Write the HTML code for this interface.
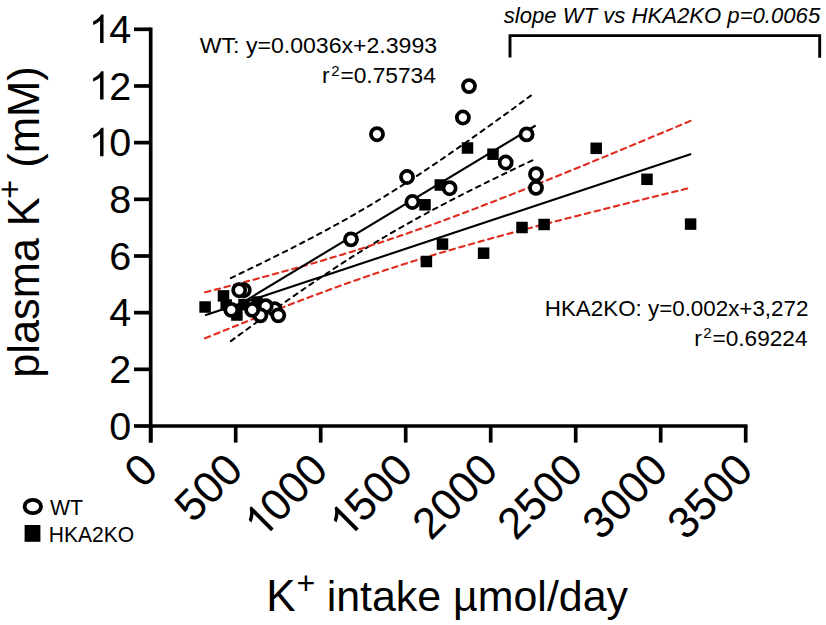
<!DOCTYPE html><html><head><meta charset="utf-8"><style>html,body{margin:0;padding:0;background:#fff;width:826px;height:625px;overflow:hidden}svg{display:block}text{font-family:"Liberation Sans", sans-serif}</style></head><body>
<svg width="826" height="625" viewBox="0 0 826 625">
<rect width="826" height="625" fill="#fff"/>
<line x1="150.70" y1="27.45" x2="150.70" y2="442.60" stroke="#000" stroke-width="3.70"/>
<line x1="150.70" y1="426.00" x2="747.55" y2="426.00" stroke="#000" stroke-width="3.70"/>
<line x1="134" y1="426.00" x2="150.70" y2="426.00" stroke="#000" stroke-width="3.70"/>
<line x1="134" y1="369.33" x2="150.70" y2="369.33" stroke="#000" stroke-width="3.70"/>
<line x1="134" y1="312.66" x2="150.70" y2="312.66" stroke="#000" stroke-width="3.70"/>
<line x1="134" y1="255.99" x2="150.70" y2="255.99" stroke="#000" stroke-width="3.70"/>
<line x1="134" y1="199.31" x2="150.70" y2="199.31" stroke="#000" stroke-width="3.70"/>
<line x1="134" y1="142.64" x2="150.70" y2="142.64" stroke="#000" stroke-width="3.70"/>
<line x1="134" y1="85.97" x2="150.70" y2="85.97" stroke="#000" stroke-width="3.70"/>
<line x1="134" y1="29.30" x2="150.70" y2="29.30" stroke="#000" stroke-width="3.70"/>
<line x1="150.70" y1="426.00" x2="150.70" y2="442.6" stroke="#000" stroke-width="3.70"/>
<line x1="235.70" y1="426.00" x2="235.70" y2="442.6" stroke="#000" stroke-width="3.70"/>
<line x1="320.70" y1="426.00" x2="320.70" y2="442.6" stroke="#000" stroke-width="3.70"/>
<line x1="405.70" y1="426.00" x2="405.70" y2="442.6" stroke="#000" stroke-width="3.70"/>
<line x1="490.70" y1="426.00" x2="490.70" y2="442.6" stroke="#000" stroke-width="3.70"/>
<line x1="575.70" y1="426.00" x2="575.70" y2="442.6" stroke="#000" stroke-width="3.70"/>
<line x1="660.70" y1="426.00" x2="660.70" y2="442.6" stroke="#000" stroke-width="3.70"/>
<line x1="745.70" y1="426.00" x2="745.70" y2="442.6" stroke="#000" stroke-width="3.70"/>
<g transform="translate(131.1,439.60)"><text x="-21.97" font-size="39.50">0</text></g>
<g transform="translate(131.1,382.93)"><text x="-21.97" font-size="39.50">2</text></g>
<g transform="translate(131.1,326.26)"><text x="-21.97" font-size="39.50">4</text></g>
<g transform="translate(131.1,269.59)"><text x="-21.97" font-size="39.50">6</text></g>
<g transform="translate(131.1,212.91)"><text x="-21.97" font-size="39.50">8</text></g>
<g transform="translate(131.1,156.24)"><path transform="translate(-42.28,0) scale(0.01929,-0.01929)" d="M763,0 L583,0 L583,1147 Q518,1085 412.5,1023 Q307,961 223,930 L223,1104 Q374,1175 487,1276 Q600,1377 647,1472 L763,1472 Z"/><text x="-21.97" font-size="39.50">0</text></g>
<g transform="translate(131.1,99.57)"><path transform="translate(-42.28,0) scale(0.01929,-0.01929)" d="M763,0 L583,0 L583,1147 Q518,1085 412.5,1023 Q307,961 223,930 L223,1104 Q374,1175 487,1276 Q600,1377 647,1472 L763,1472 Z"/><text x="-21.97" font-size="39.50">2</text></g>
<g transform="translate(131.1,42.90)"><path transform="translate(-42.28,0) scale(0.01929,-0.01929)" d="M763,0 L583,0 L583,1147 Q518,1085 412.5,1023 Q307,961 223,930 L223,1104 Q374,1175 487,1276 Q600,1377 647,1472 L763,1472 Z"/><text x="-21.97" font-size="39.50">4</text></g>
<g transform="translate(160.00,472.20) rotate(-45)"><text x="-24.47" font-size="44.00">0</text></g>
<g transform="translate(245.00,472.20) rotate(-45)"><text x="-73.41" font-size="44.00">5</text><text x="-48.94" font-size="44.00">0</text><text x="-24.47" font-size="44.00">0</text></g>
<g transform="translate(330.00,472.20) rotate(-45)"><path transform="translate(-96.03,0) scale(0.02148,-0.02148)" d="M763,0 L583,0 L583,1147 Q518,1085 412.5,1023 Q307,961 223,930 L223,1104 Q374,1175 487,1276 Q600,1377 647,1472 L763,1472 Z"/><text x="-73.41" font-size="44.00">0</text><text x="-48.94" font-size="44.00">0</text><text x="-24.47" font-size="44.00">0</text></g>
<g transform="translate(415.00,472.20) rotate(-45)"><path transform="translate(-96.03,0) scale(0.02148,-0.02148)" d="M763,0 L583,0 L583,1147 Q518,1085 412.5,1023 Q307,961 223,930 L223,1104 Q374,1175 487,1276 Q600,1377 647,1472 L763,1472 Z"/><text x="-73.41" font-size="44.00">5</text><text x="-48.94" font-size="44.00">0</text><text x="-24.47" font-size="44.00">0</text></g>
<g transform="translate(500.00,472.20) rotate(-45)"><text x="-97.88" font-size="44.00">2</text><text x="-73.41" font-size="44.00">0</text><text x="-48.94" font-size="44.00">0</text><text x="-24.47" font-size="44.00">0</text></g>
<g transform="translate(585.00,472.20) rotate(-45)"><text x="-97.88" font-size="44.00">2</text><text x="-73.41" font-size="44.00">5</text><text x="-48.94" font-size="44.00">0</text><text x="-24.47" font-size="44.00">0</text></g>
<g transform="translate(670.00,472.20) rotate(-45)"><text x="-97.88" font-size="44.00">3</text><text x="-73.41" font-size="44.00">0</text><text x="-48.94" font-size="44.00">0</text><text x="-24.47" font-size="44.00">0</text></g>
<g transform="translate(755.00,472.20) rotate(-45)"><text x="-97.88" font-size="44.00">3</text><text x="-73.41" font-size="44.00">5</text><text x="-48.94" font-size="44.00">0</text><text x="-24.47" font-size="44.00">0</text></g>
<text transform="translate(38.5,377.8) rotate(-90)" font-size="44" textLength="180.5" lengthAdjust="spacingAndGlyphs">plasma K</text>
<text transform="translate(21.1,198.7) rotate(-90)" font-size="32.4">+</text>
<text transform="translate(38.5,167.8) rotate(-90)" font-size="44" textLength="101.6" lengthAdjust="spacingAndGlyphs">(mM)</text>
<text x="266.3" y="610.5" font-size="44">K</text>
<text x="296.4" y="593.5" font-size="32.2">+</text>
<text x="326.7" y="610.5" font-size="42.9">intake µmol/day</text>
<path d="M230.80,278.06 L235.80,275.67 L240.80,273.27 L245.81,270.87 L250.81,268.45 L255.81,266.02 L260.81,263.58 L265.81,261.13 L270.81,258.66 L275.81,256.17 L280.82,253.68 L285.82,251.16 L290.82,248.63 L295.82,246.08 L300.82,243.50 L305.82,240.91 L310.83,238.30 L315.83,235.66 L320.83,233.00 L325.83,230.31 L330.83,227.59 L335.84,224.85 L340.84,222.08 L345.84,219.27 L350.84,216.44 L355.84,213.57 L360.84,210.67 L365.85,207.74 L370.85,204.77 L375.85,201.77 L380.85,198.73 L385.85,195.66 L390.85,192.56 L395.86,189.42 L400.86,186.25 L405.86,183.05 L410.86,179.81 L415.86,176.55 L420.86,173.26 L425.87,169.93 L430.87,166.58 L435.87,163.21 L440.87,159.81 L445.87,156.38 L450.87,152.94 L455.88,149.47 L460.88,145.98 L465.88,142.47 L470.88,138.95 L475.88,135.41 L480.88,131.85 L485.88,128.28 L490.89,124.69 L495.89,121.09 L500.89,117.48 L505.89,113.86 L510.89,110.23 L515.89,106.58 L520.90,102.93 L525.90,99.26 L530.90,95.59" fill="none" stroke="#000" stroke-width="2" stroke-linecap="round" stroke-dasharray="4.6 5.06"/>
<path d="M230.80,341.10 L235.84,337.42 L240.87,333.75 L245.91,330.09 L250.95,326.44 L255.98,322.80 L261.02,319.17 L266.06,315.56 L271.09,311.96 L276.13,308.38 L281.17,304.81 L286.20,301.26 L291.24,297.73 L296.28,294.21 L301.31,290.72 L306.35,287.25 L311.39,283.80 L316.42,280.38 L321.46,276.98 L326.50,273.60 L331.53,270.26 L336.57,266.94 L341.61,263.65 L346.64,260.40 L351.68,257.17 L356.72,253.98 L361.75,250.82 L366.79,247.70 L371.83,244.61 L376.86,241.55 L381.90,238.53 L386.94,235.55 L391.97,232.60 L397.01,229.68 L402.05,226.80 L407.08,223.94 L412.12,221.12 L417.16,218.34 L422.19,215.58 L427.23,212.85 L432.27,210.14 L437.30,207.46 L442.34,204.81 L447.38,202.18 L452.41,199.57 L457.45,196.99 L462.49,194.42 L467.52,191.87 L472.56,189.35 L477.60,186.83 L482.63,184.34 L487.67,181.85 L492.71,179.39 L497.74,176.93 L502.78,174.49 L507.82,172.06 L512.85,169.63 L517.89,167.22 L522.93,164.82 L527.96,162.43 L533.00,160.05" fill="none" stroke="#000" stroke-width="2" stroke-linecap="round" stroke-dasharray="4.6 5.06"/>
<path d="M205.10,292.31 L213.20,290.23 L221.30,288.14 L229.41,286.04 L237.51,283.92 L245.61,281.79 L253.71,279.64 L261.81,277.47 L269.91,275.28 L278.01,273.07 L286.12,270.84 L294.22,268.58 L302.32,266.29 L310.42,263.98 L318.52,261.63 L326.62,259.25 L334.73,256.84 L342.83,254.39 L350.93,251.90 L359.03,249.37 L367.13,246.80 L375.24,244.19 L383.34,241.53 L391.44,238.83 L399.54,236.09 L407.64,233.31 L415.74,230.48 L423.85,227.61 L431.95,224.70 L440.05,221.76 L448.15,218.78 L456.25,215.76 L464.35,212.72 L472.46,209.64 L480.56,206.54 L488.66,203.41 L496.76,200.25 L504.86,197.08 L512.96,193.88 L521.07,190.67 L529.17,187.43 L537.27,184.18 L545.37,180.92 L553.47,177.64 L561.57,174.35 L569.67,171.05 L577.78,167.74 L585.88,164.42 L593.98,161.09 L602.08,157.74 L610.18,154.40 L618.29,151.04 L626.39,147.68 L634.49,144.31 L642.59,140.94 L650.69,137.56 L658.79,134.17 L666.89,130.78 L675.00,127.39 L683.10,123.99 L691.20,120.59" fill="none" stroke="#e02c1e" stroke-width="2.1" stroke-linecap="round" stroke-dasharray="5.5 4.5"/>
<path d="M205.10,338.29 L213.20,335.00 L221.30,331.71 L229.41,328.44 L237.51,325.19 L245.61,321.95 L253.71,318.73 L261.81,315.52 L269.91,312.34 L278.01,309.17 L286.12,306.03 L294.22,302.92 L302.32,299.83 L310.42,296.77 L318.52,293.75 L326.62,290.75 L334.73,287.79 L342.83,284.87 L350.93,281.98 L359.03,279.14 L367.13,276.34 L375.24,273.58 L383.34,270.86 L391.44,268.19 L399.54,265.56 L407.64,262.97 L415.74,260.42 L423.85,257.92 L431.95,255.45 L440.05,253.02 L448.15,250.63 L456.25,248.27 L464.35,245.95 L472.46,243.65 L480.56,241.38 L488.66,239.14 L496.76,236.92 L504.86,234.72 L512.96,232.54 L521.07,230.39 L529.17,228.25 L537.27,226.12 L545.37,224.01 L553.47,221.92 L561.57,219.83 L569.67,217.76 L577.78,215.70 L585.88,213.65 L593.98,211.61 L602.08,209.58 L610.18,207.55 L618.29,205.53 L626.39,203.52 L634.49,201.52 L642.59,199.52 L650.69,197.53 L658.79,195.54 L666.89,193.55 L675.00,191.57 L683.10,189.60 L691.20,187.63" fill="none" stroke="#e02c1e" stroke-width="2.1" stroke-linecap="round" stroke-dasharray="5.5 4.5"/>
<line x1="230.80" y1="309.58" x2="535.60" y2="125.48" stroke="#000" stroke-width="2.1"/>
<line x1="205.10" y1="315.30" x2="691.20" y2="154.11" stroke="#000" stroke-width="2.1"/>
<rect x="199.35" y="301.25" width="11.50" height="11.50" fill="#000"/>
<rect x="217.75" y="290.15" width="11.50" height="11.50" fill="#000"/>
<rect x="220.45" y="299.25" width="11.50" height="11.50" fill="#000"/>
<rect x="231.15" y="309.25" width="11.50" height="11.50" fill="#000"/>
<rect x="238.25" y="298.85" width="11.50" height="11.50" fill="#000"/>
<rect x="251.25" y="296.25" width="11.50" height="11.50" fill="#000"/>
<rect x="419.25" y="199.05" width="11.50" height="11.50" fill="#000"/>
<rect x="434.55" y="179.25" width="11.50" height="11.50" fill="#000"/>
<rect x="461.75" y="142.25" width="11.50" height="11.50" fill="#000"/>
<rect x="487.25" y="148.45" width="11.50" height="11.50" fill="#000"/>
<rect x="590.45" y="142.55" width="11.50" height="11.50" fill="#000"/>
<rect x="641.25" y="173.55" width="11.50" height="11.50" fill="#000"/>
<rect x="684.85" y="218.35" width="11.50" height="11.50" fill="#000"/>
<rect x="538.35" y="218.75" width="11.50" height="11.50" fill="#000"/>
<rect x="516.25" y="221.75" width="11.50" height="11.50" fill="#000"/>
<rect x="477.85" y="247.45" width="11.50" height="11.50" fill="#000"/>
<rect x="436.75" y="238.35" width="11.50" height="11.50" fill="#000"/>
<rect x="420.65" y="255.75" width="11.50" height="11.50" fill="#000"/>
<circle cx="469.00" cy="86.10" r="6.05" fill="#fff" stroke="#000" stroke-width="3.75"/>
<circle cx="462.90" cy="117.50" r="6.05" fill="#fff" stroke="#000" stroke-width="3.75"/>
<circle cx="377.00" cy="134.20" r="6.05" fill="#fff" stroke="#000" stroke-width="3.75"/>
<circle cx="526.60" cy="134.40" r="6.05" fill="#fff" stroke="#000" stroke-width="3.75"/>
<circle cx="505.70" cy="162.50" r="6.05" fill="#fff" stroke="#000" stroke-width="3.75"/>
<circle cx="536.00" cy="174.20" r="6.05" fill="#fff" stroke="#000" stroke-width="3.75"/>
<circle cx="536.00" cy="187.80" r="6.05" fill="#fff" stroke="#000" stroke-width="3.75"/>
<circle cx="407.00" cy="177.00" r="6.05" fill="#fff" stroke="#000" stroke-width="3.75"/>
<circle cx="412.40" cy="202.00" r="6.05" fill="#fff" stroke="#000" stroke-width="3.75"/>
<circle cx="449.60" cy="188.20" r="6.05" fill="#fff" stroke="#000" stroke-width="3.75"/>
<circle cx="351.00" cy="239.30" r="6.05" fill="#fff" stroke="#000" stroke-width="3.75"/>
<circle cx="243.80" cy="290.20" r="6.05" fill="#fff" stroke="#000" stroke-width="3.75"/>
<circle cx="239.20" cy="290.20" r="6.05" fill="#fff" stroke="#000" stroke-width="3.75"/>
<circle cx="231.30" cy="309.90" r="6.05" fill="#fff" stroke="#000" stroke-width="3.75"/>
<circle cx="274.50" cy="309.20" r="6.05" fill="#fff" stroke="#000" stroke-width="3.75"/>
<circle cx="265.70" cy="306.10" r="6.05" fill="#fff" stroke="#000" stroke-width="3.75"/>
<circle cx="260.40" cy="315.30" r="6.05" fill="#fff" stroke="#000" stroke-width="3.75"/>
<circle cx="252.20" cy="309.90" r="6.05" fill="#fff" stroke="#000" stroke-width="3.75"/>
<circle cx="278.30" cy="315.30" r="6.05" fill="#fff" stroke="#000" stroke-width="3.75"/>
<text x="199.80" y="52.60" font-size="22.0" textLength="237.30" lengthAdjust="spacingAndGlyphs" text-anchor="start" >WT: y=0.0036x+2.3993</text>
<text x="322.00" y="82.90" font-size="22.0" textLength="113.90" lengthAdjust="spacingAndGlyphs" text-anchor="start" >r<tspan font-size="14.5" dx="1.6" dy="-7.3">2</tspan><tspan dx="0.8" dy="7.3">=0.75734</tspan></text>
<text x="544.80" y="315.90" font-size="22.0" textLength="263.60" lengthAdjust="spacingAndGlyphs" text-anchor="start" >HKA2KO: y=0.002x+3,272</text>
<text x="694.20" y="345.70" font-size="22.0" textLength="113.30" lengthAdjust="spacingAndGlyphs" text-anchor="start" >r<tspan font-size="14.5" dx="1.6" dy="-7.3">2</tspan><tspan dx="0.8" dy="7.3">=0.69224</tspan></text>
<text x="503.7" y="22.8" font-size="22" font-style="italic" textLength="316.5" lengthAdjust="spacingAndGlyphs">slope WT vs HKA2KO p=0.0065</text>
<path d="M510,57.6 V35.6 H819.7 V57.8" fill="none" stroke="#000" stroke-width="2.9"/>
<ellipse cx="32.8" cy="506.5" rx="8.2" ry="6.7" fill="none" stroke="#000" stroke-width="3.8"/>
<rect x="24.6" y="525" width="15.8" height="16.8" fill="#000"/>
<text x="49.90" y="514.90" font-size="22.0" textLength="33.00" lengthAdjust="spacingAndGlyphs" text-anchor="start" >WT</text>
<text x="48.80" y="541.90" font-size="22.0" textLength="85.40" lengthAdjust="spacingAndGlyphs" text-anchor="start" >HKA2KO</text>
</svg></body></html>
